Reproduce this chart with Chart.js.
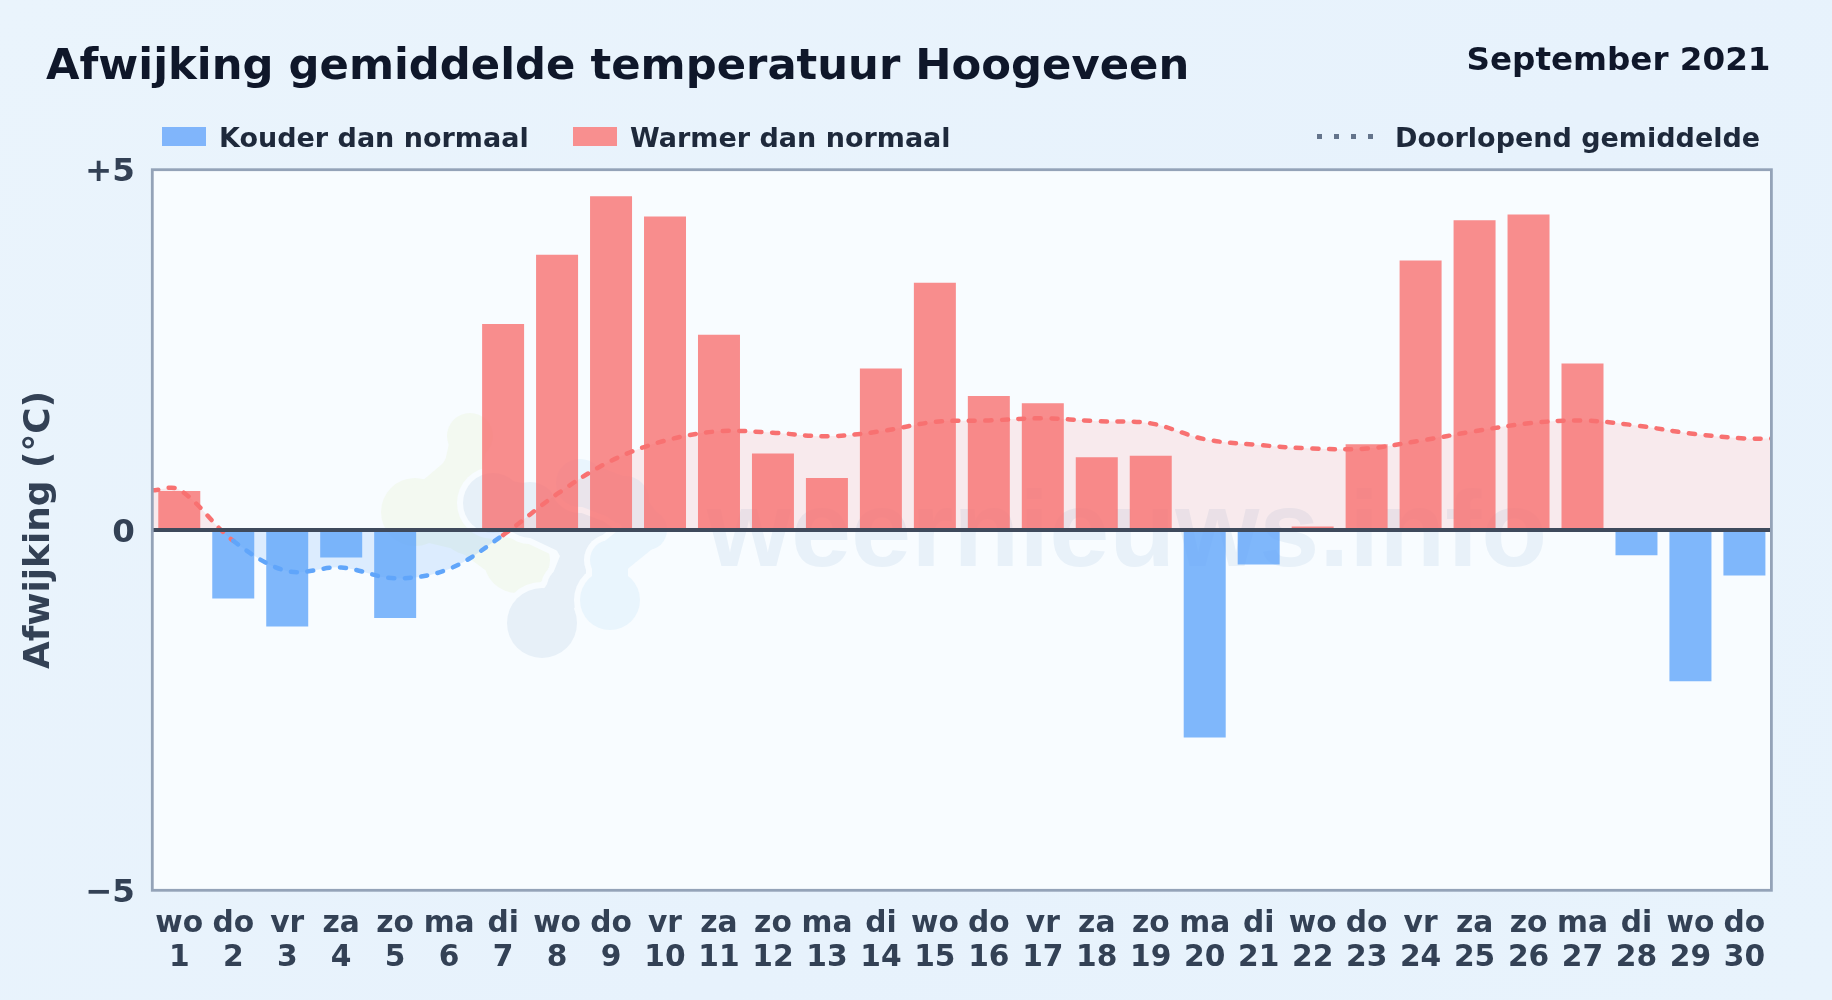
<!DOCTYPE html>
<html lang="nl">
<head>
<meta charset="utf-8">
<title>Afwijking gemiddelde temperatuur Hoogeveen</title>
<script src="https://cdn.jsdelivr.net/npm/chart.js@4/dist/chart.umd.min.js"></script>
<style>
    html, body { margin: 0; height: 100%; overflow: hidden; }
    body {
        width: 1832px; height: 1000px; position: relative;
        background: linear-gradient(135deg, #eaf4fc, #e7f2fc 60%, #e8f3fc);
        font-family: "DejaVu Sans", sans-serif; font-weight: 700;
    }
    canvas { position: absolute; left: 0; top: 0; }
    .txt { position: absolute; white-space: nowrap; line-height: 1; }
    #title { left: 46px; top: 43px; font-size: 43.3px; color: #0f172a; }
    #period { right: 61.5px; top: 43px; font-size: 32.6px; color: #0f172a; }
    .leg { top: 124px; font-size: 27px; color: #1e293b; }
    .swatch { position: absolute; top: 127px; width: 44px; height: 19px; }
    #dots {
        position: absolute; left: 1317px; top: 134px; width: 56px; height: 5px;
        background: repeating-linear-gradient(90deg, #64748b 0 5px, transparent 5px 17px);
    }
</style>
</head>
<body>
<canvas id="chart" width="1832" height="1000"></canvas>
<div class="txt" id="title">Afwijking gemiddelde temperatuur Hoogeveen</div>
<div class="txt" id="period">September 2021</div>
<div class="swatch" style="left:162px;background:#80b5fb"></div>
<div class="txt leg" style="left:219px">Kouder dan normaal</div>
<div class="swatch" style="left:573px;background:#f88f8f"></div>
<div class="txt leg" style="left:630px">Warmer dan normaal</div>
<div id="dots"></div>
<div class="txt leg" style="left:1395px">Doorlopend gemiddelde</div>
<script>
const days = ['wo','do','vr','za','zo','ma','di','wo','do','vr','za','zo','ma','di','wo','do','vr','za','zo','ma','di','wo','do','vr','za','zo','ma','di','wo','do'];
const dayNumbers = [1,2,3,4,5,6,7,8,9,10,11,12,13,14,15,16,17,18,19,20,21,22,23,24,25,26,27,28,29,30];
const deviation = [0.54,-0.95,-1.34,-0.38,-1.22,null,2.86,3.82,4.63,4.35,2.71,1.06,0.72,2.24,3.43,1.86,1.76,1.01,1.03,-2.88,-0.48,0.05,1.19,3.74,4.30,4.38,2.31,-0.35,-2.10,-0.63];
// running mean, first and last value sit on the plot edges
const runningX = [0.5,1,2,3,4,5,6,7,8,9,10,11,12,13,14,15,16,17,18,19,20,21,22,23,24,25,26,27,28,29,30,30.5];
const runningMean = [0.55,0.56,-0.15,-0.57,-0.52,-0.67,-0.54,-0.07,0.50,0.96,1.24,1.37,1.35,1.30,1.37,1.50,1.52,1.55,1.51,1.48,1.26,1.18,1.13,1.13,1.24,1.37,1.48,1.52,1.45,1.34,1.27,1.27];
const yTicks = [-5,0,5];
const yTickLabels = ['−5','0','+5'];

const RED = '#f87171', BLUE = '#60a5fa';

// faint site logo and name behind the bars
const watermark = {
    id: 'watermark',
    beforeDatasetsDraw(chart) {
        const c = chart.ctx;
        const blob = (color, lobes) => {
            const paint = (fill, grow) => {
                c.fillStyle = fill; c.strokeStyle = fill; c.lineCap = 'round';
                lobes.forEach((l, i) => {
                    c.beginPath(); c.arc(l[0], l[1], l[2] + grow, 0, Math.PI * 2); c.fill();
                    if (i) {
                        const p = lobes[i - 1];
                        c.lineWidth = Math.min(l[2], p[2]) * 1.8 + grow * 2;
                        c.beginPath(); c.moveTo(p[0], p[1]); c.lineTo(l[0], l[1]); c.stroke();
                    }
                });
            };
            paint('#f8fcff', 6);
            paint(color, 0);
        };
        c.save();
        blob('#f3f9f1', [[470,436,23],[462,472,21],[415,512,34],[470,525,30],[517,560,33]]);
        blob('#e7f0f8', [[493,503,30],[530,510,28],[587,537,33],[567,587,20],[542,623,35]]);
        blob('#e9f5fd', [[580,483,24],[625,500,24],[647,530,20],[610,560,20],[610,600,30]]);
        c.fillStyle = '#e8f1f9';
        c.font = 'bold 108px "Liberation Sans"';
        c.textBaseline = 'alphabetic';
        c.fillText('weernieuws.info', 707, 566);
        c.restore();
    }
};

// white plot panel with a grey frame
const plotFrame = {
    id: 'plotFrame',
    beforeDraw(chart) {
        const a = chart.chartArea;
        chart.ctx.fillStyle = '#f8fcff';
        chart.ctx.fillRect(a.left, a.top, a.width, a.height);
    },
    afterDraw(chart) {
        const a = chart.chartArea;
        chart.ctx.strokeStyle = '#94a3b8';
        chart.ctx.lineWidth = 2.8;
        chart.ctx.strokeRect(a.left, a.top, a.width, a.height);
    }
};

new Chart(document.getElementById('chart'), {
    data: {
        datasets: [{
            type: 'line',
            data: runningX.map((x, i) => ({ x, y: runningMean[i] })),
            borderWidth: 4.5,
            borderDash: [6, 10.5],
            borderCapStyle: 'round',
            borderColor: RED,
            tension: 0.35,
            pointRadius: 0,
            fill: { target: 'origin', above: 'rgba(248,113,113,0.13)', below: 'rgba(96,165,250,0.18)' },
            segment: {
                borderColor: s => (s.p0.parsed.y >= 0 || s.p1.parsed.y >= 0) ? RED : BLUE
            }
        }, {
            type: 'bar',
            data: dayNumbers.map((x, i) => ({ x, y: deviation[i] })),
            backgroundColor: s => s.raw && s.raw.y < 0 ? 'rgba(96,165,250,0.8)' : 'rgba(248,113,113,0.8)',
            barPercentage: 0.778,
            categoryPercentage: 1
        }]
    },
    plugins: [plotFrame, watermark],
    options: {
        responsive: false,
        animation: false,
        layout: { padding: { left: 0, right: 60.6, top: 169.7, bottom: 0 } },
        plugins: { legend: { display: false }, tooltip: { enabled: false } },
        scales: {
            x: {
                type: 'linear',
                offset: false,
                min: 0.5,
                max: 30.5,
                afterFit: s => { s.height = 109.7; },
                afterBuildTicks: s => { s.ticks = dayNumbers.map(value => ({ value })); },
                grid: { display: false },
                border: { display: false },
                ticks: {
                    autoSkip: false,
                    maxRotation: 0,
                    padding: 8.5,
                    color: '#334155',
                    font: { family: 'DejaVu Sans', weight: 'bold', size: 29.7, lineHeight: 1.145 },
                    callback: v => [days[v - 1], String(v)]
                }
            },
            y: {
                min: -5,
                max: 5,
                afterFit: s => { s.width = 152.3; },
                afterBuildTicks: s => { s.ticks = yTicks.map(value => ({ value })); },
                border: { display: false },
                grid: {
                    z: 1,
                    drawTicks: false,
                    lineWidth: 4,
                    color: t => t.tick && t.tick.value === 0 ? '#3f4a5c' : 'transparent'
                },
                ticks: {
                    padding: 17.5,
                    color: '#334155',
                    // empty first line nudges the label down a little
                    font: { family: 'DejaVu Sans', weight: 'bold', size: 32.5, lineHeight: 0.2 },
                    callback: v => ['', yTickLabels[yTicks.indexOf(v)]]
                },
                title: {
                    display: true,
                    text: 'Afwijking (°C)',
                    color: '#334155',
                    padding: 18.5,
                    font: { family: 'DejaVu Sans', weight: 'bold', size: 35.9 }
                }
            }
        }
    }
});
</script>
</body>
</html>
